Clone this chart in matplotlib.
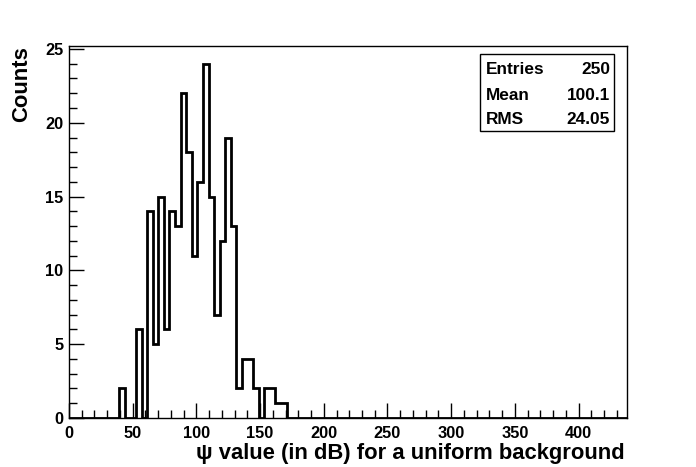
import numpy as np
import matplotlib
matplotlib.use("Agg")
import matplotlib.pyplot as plt
from matplotlib.patches import Rectangle
from matplotlib.ticker import MultipleLocator

# ---- data ----
x_min, x_max, n_bins = 0.0, 438.0, 100
# counts for bins 0..99 (bin width 4.38)
counts = [0]*9 + [2, 0, 0, 6, 0, 14, 5, 15, 6, 14, 13, 22, 18, 11, 16, 24, 15, 7,
                  12, 19, 13, 2, 4, 4, 2, 0, 2, 2, 1, 1]
counts = counts + [0]*(n_bins - len(counts))
stat_labels = ["Entries", "Mean", "RMS"]
stat_values = ["250", "100.1", "24.05"]
x_title = "\u03c8 value (in dB) for a uniform background"
y_title = "Counts"

W, H = 696, 467
plt.rcParams['font.family'] = ['Liberation Sans', 'DejaVu Sans']
plt.rcParams['font.weight'] = 'bold'

fig = plt.figure(figsize=(W/100, H/100), dpi=100)
fig.patch.set_facecolor('white')

L, R, T, B = 69, 627, 46, 418
ax = fig.add_axes([L/W, (H-B)/H, (R-L)/W, (B-T)/H])
edges = np.linspace(x_min, x_max, n_bins + 1)
ax.stairs(counts, edges, color='black', lw=2, baseline=0)
ax.set_xlim(x_min, x_max)
ax.set_ylim(0, max(counts)*1.05)

ax.xaxis.set_major_locator(MultipleLocator(50))
ax.xaxis.set_minor_locator(MultipleLocator(10))
ax.yaxis.set_major_locator(MultipleLocator(5))
ax.yaxis.set_minor_locator(MultipleLocator(1))
ax.tick_params(which='major', direction='in', length=11, width=1, labelsize=11.8,
               top=False, right=False)
ax.tick_params(which='minor', direction='in', length=6, width=1, top=False, right=False)
ax.tick_params(axis='x', pad=6)
ax.tick_params(axis='y', pad=4)
for lab in ax.get_xticklabels() + ax.get_yticklabels():
    lab.set_fontweight('bold')
for s in ax.spines.values():
    s.set_linewidth(1)

def fx(px):
    return px / W

def fy(py):
    return 1 - py / H

fig.text(fx(625), fy(453), x_title, ha='right', va='center', fontsize=15.8,
         fontweight='bold')
fig.text(fx(22), fy(46), y_title, ha='center', va='top', rotation=90,
         fontsize=15.8, fontweight='bold')

# stats box
bx0, bx1, by0, by1 = 480, 614, 54, 131
fig.patches.append(Rectangle((fx(bx0), fy(by1)), (bx1-bx0)/W, (by1-by0)/H,
                             transform=fig.transFigure, facecolor='white',
                             edgecolor='black', lw=1, zorder=5))
row_y = [69, 95, 120]
for lab, val, yc in zip(stat_labels, stat_values, row_y):
    fig.text(fx(486), fy(yc), lab, ha='left', va='center', fontsize=12.4,
             fontweight='bold', zorder=6)
    fig.text(fx(610), fy(yc), val, ha='right', va='center', fontsize=12.4,
             fontweight='bold', zorder=6)

fig.savefig("out.png", dpi=100)
